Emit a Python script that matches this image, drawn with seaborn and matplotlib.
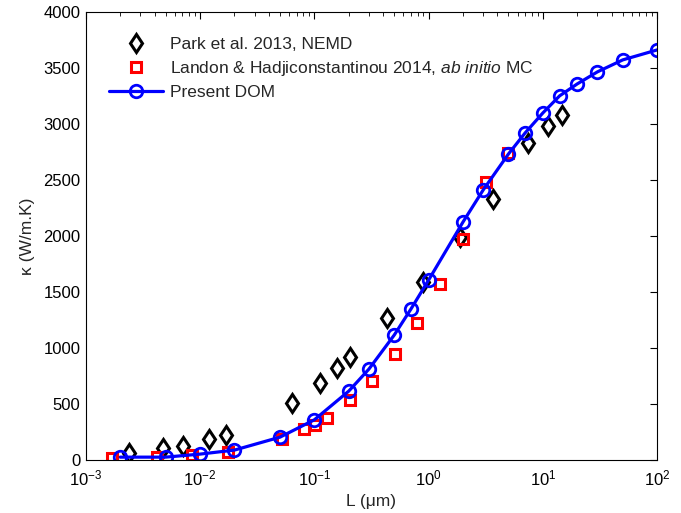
import numpy as np
import pandas as pd
import matplotlib
matplotlib.use("Agg")
import matplotlib.pyplot as plt
import seaborn as sns
from matplotlib.ticker import LogLocator, MultipleLocator, NullFormatter

# Data
park_L = [0.00238, 0.00472, 0.00706, 0.0119, 0.0168, 0.0637, 0.112, 0.158, 0.205,
          0.433, 0.894, 1.88, 3.66, 7.42, 11.1, 14.7]
park_k = [63, 107, 125, 188, 223, 509, 688, 821, 920, 1268, 1589, 1991, 2330, 2830, 2982, 3080]

landon_L = [0.00169, 0.00419, 0.00847, 0.0175, 0.052, 0.081, 0.101, 0.129, 0.205,
            0.319, 0.508, 0.79, 1.26, 2.0, 3.18, 4.96]
landon_k = [18, 27, 45, 71, 188, 277, 312, 375, 536, 705, 946, 1223, 1571, 1973, 2482, 2741]

dom_L = [0.002, 0.005, 0.01, 0.02, 0.05, 0.1, 0.2, 0.3, 0.5, 0.7, 1, 2, 3, 5, 7, 10,
         14, 20, 30, 50, 100]
dom_k = [27, 27, 54, 90, 205, 360, 616, 812, 1116, 1348, 1607, 2125, 2410, 2732, 2920,
         3098, 3250, 3357, 3464, 3571, 3660]

sns.set_theme(style="white")
plt.rcParams['font.family'] = ['Liberation Sans', 'DejaVu Sans']
plt.rcParams['mathtext.fontset'] = 'custom'
plt.rcParams['mathtext.rm'] = 'Liberation Sans'
plt.rcParams['mathtext.it'] = 'Liberation Sans:italic'
plt.rcParams['mathtext.bf'] = 'Liberation Sans:bold'

fig = plt.figure(figsize=(6.81, 5.13), dpi=100)
ax = fig.add_axes([0.126, 0.103, 0.839, 0.874])

park = pd.DataFrame({"L": park_L, "k": park_k})
landon = pd.DataFrame({"L": landon_L, "k": landon_k})
dom = pd.DataFrame({"L": dom_L, "k": dom_k})

sns.lineplot(data=park, x="L", y="k", ax=ax, estimator=None, sort=False,
             linestyle="none", marker="d", markersize=9.5, markerfacecolor="none",
             markeredgecolor="black", markeredgewidth=2.2, color="black",
             label="Park et al. 2013, NEMD")
sns.lineplot(data=landon, x="L", y="k", ax=ax, estimator=None, sort=False,
             linestyle="none", marker="s", markersize=7, markerfacecolor="none",
             markeredgecolor="#ff0000", markeredgewidth=2.2, color="#ff0000",
             label="Landon & Hadjiconstantinou 2014, $\\it{ab\\ initio}$ MC")
sns.lineplot(data=dom, x="L", y="k", ax=ax, estimator=None, sort=False,
             color="#0000ff", linewidth=2.3, marker="o", markersize=9,
             markerfacecolor="none", markeredgecolor="#0000ff", markeredgewidth=2.0,
             label="Present DOM")

ax.set_xscale("log")
ax.set_xlim(1e-3, 1e2)
ax.set_ylim(0, 4000)
ax.yaxis.set_major_locator(MultipleLocator(500))
ax.xaxis.set_major_locator(LogLocator(base=10, numticks=10))
ax.xaxis.set_minor_locator(LogLocator(base=10, subs=np.arange(2, 10), numticks=20))
ax.xaxis.set_minor_formatter(NullFormatter())

ax.set_xlabel("L (μm)", fontsize=12.5, labelpad=4)
ax.set_ylabel("κ (W/m.K)", fontsize=12.5, labelpad=6)

ax.tick_params(axis="both", which="both", direction="in", top=True, right=True,
               labelsize=12, colors="black")
ax.tick_params(axis="both", which="major", length=5, width=0.8)
ax.tick_params(axis="x", which="minor", length=3, width=0.6)
ax.tick_params(axis="x", which="major", pad=6)
ax.tick_params(axis="y", which="major", pad=4)
for s in ax.spines.values():
    s.set_color("black")
    s.set_linewidth(0.8)
ax.grid(False)

leg = ax.legend(loc="upper left", bbox_to_anchor=(0.028, 0.96), frameon=False,
                fontsize=12.5, handlelength=3.1, handletextpad=0.4,
                labelspacing=0.4, borderaxespad=0)

fig.savefig("out.png", dpi=100)
